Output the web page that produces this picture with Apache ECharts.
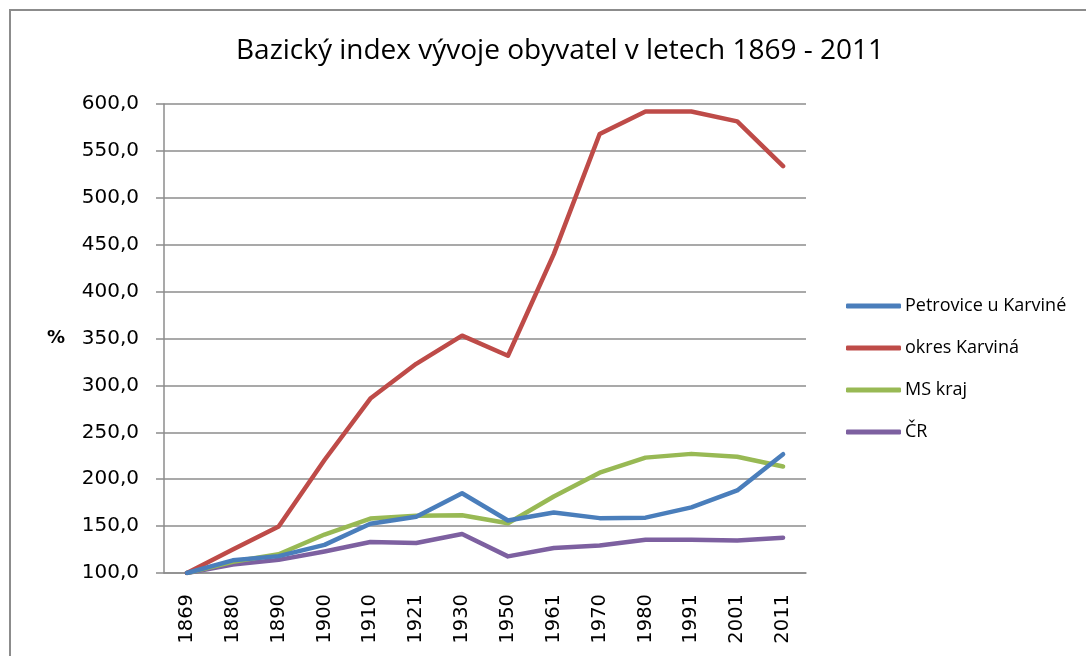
<!DOCTYPE html>
<html>
<head>
<meta charset="utf-8">
<script src="https://cdn.jsdelivr.net/npm/echarts@6/dist/echarts.min.js"></script>
<style>
  html, body { margin: 0; padding: 0; background: #fff; }
  #chart { width: 1086px; height: 656px; }
</style>
</head>
<body>
<div id="chart"></div>
<script>
const years = ['1869', '1880', '1890', '1900', '1910', '1921', '1930', '1950', '1961', '1970', '1980', '1991', '2001', '2011']

const petrovice = [100, 113.5, 118, 130, 152.5, 160, 185, 156, 164.5, 158.5, 159, 170, 188, 226.6]
const okresKarvina = [100, 125, 149.6, 220.5, 286, 323, 353, 331.6, 440, 568, 592, 592, 581.5, 533.7]
const msKraj = [100, 112, 120, 141, 158, 161, 161.5, 153, 181.5, 207, 223, 227, 224, 213.5]
const cr = [100, 109, 114, 123, 133, 132, 141.5, 117.7, 126.6, 129.4, 135.5, 135.5, 134.7, 137.6]

const seriesNames = ['Petrovice u Karviné', 'okres Karviná', 'MS kraj', 'ČR']
const seriesColors = ['#4A7EBB', '#BE4B48', '#98B954', '#7D60A0']
const seriesData = [petrovice, okresKarvina, msKraj, cr]

const chart = echarts.init(document.getElementById('chart'))

const gridColor = '#8c8c8c'

chart.setOption({
  animation: false,
  title: {
    text: 'Bazický index vývoje obyvatel v letech 1869 - 2011',
    left: 555,
    textAlign: 'center',
    top: 32,
    textStyle: {
      fontFamily: 'Open Sans',
      fontWeight: 'normal',
      fontSize: 28,
      color: '#000'
    }
  },
  legend: {
    orient: 'vertical',
    left: 846,
    top: 297,
    padding: 0,
    itemWidth: 55,
    itemHeight: 5,
    itemGap: 24,
    icon: 'roundRect',
    textStyle: {
      fontFamily: 'Open Sans',
      fontSize: 18,
      color: '#000',
      padding: [0, 0, 0, -1]
    },
    data: seriesNames
  },
  graphic: [
    {
      type: 'rect',
      shape: { x: 10, y: 10, width: 1200, height: 800 },
      style: { fill: 'none', stroke: gridColor, lineWidth: 2 },
      silent: true
    },
    {
      type: 'text',
      left: 47,
      top: 329,
      style: {
        text: '%',
        fontFamily: 'DejaVu Sans',
        fontWeight: 'bold',
        fontSize: 18,
        fill: '#000'
      },
      silent: true
    }
  ],
  grid: { left: 164, right: 280, top: 104, bottom: 83 },
  xAxis: {
    type: 'category',
    data: years,
    boundaryGap: true,
    axisLine: { lineStyle: { color: gridColor, width: 1.5 } },
    axisTick: { length: 8, lineStyle: { color: gridColor, width: 1.5 } },
    axisLabel: {
      rotate: 90,
      margin: 21,
      fontFamily: 'DejaVu Sans',
      fontSize: 19.5,
      color: '#000'
    }
  },
  yAxis: {
    type: 'value',
    min: 100,
    max: 600,
    interval: 50,
    axisLine: { show: true, lineStyle: { color: gridColor, width: 1.5 } },
    axisTick: { show: true, length: 8, lineStyle: { color: gridColor, width: 1.5 } },
    splitLine: { lineStyle: { color: gridColor, width: 1.5 } },
    axisLabel: {
      margin: 25,
      fontFamily: 'DejaVu Sans',
      fontSize: 20,
      color: '#000',
      formatter: v => v.toFixed(1).replace('.', ',')
    }
  },
  series: seriesNames.map((name, i) => ({
    name: name,
    type: 'line',
    data: seriesData[i],
    symbol: 'none',
    lineStyle: { color: seriesColors[i], width: 4.5, cap: 'round', join: 'round' },
    itemStyle: { color: seriesColors[i] },
    z: 10 - i
  }))
})
</script>
</body>
</html>
